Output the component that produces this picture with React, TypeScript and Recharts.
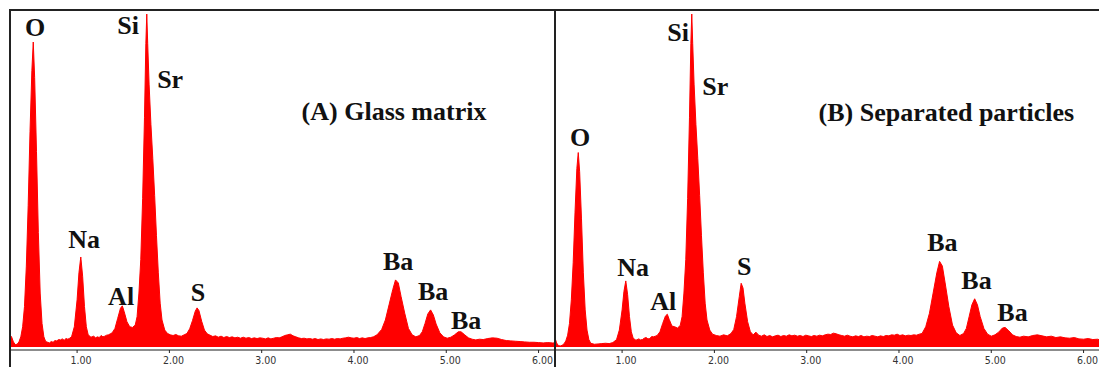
import React from 'react';
import { AreaChart, Area, XAxis, YAxis, ReferenceDot } from 'recharts';

// Energy (keV) / intensity (% of full scale) pairs
const spectrumA: [number, number][] = [
  [0.27, 3.6], [0.29, 3.0], [0.31, 1.5], [0.33, 0.7], [0.35, 0.8], [0.37, 1.5], [0.39, 3.0], [0.41, 6], [0.43, 12],
  [0.45, 24], [0.47, 42], [0.49, 64], [0.51, 82], [0.525, 90.5], [0.54, 80], [0.56, 58], [0.58, 34], [0.6, 16],
  [0.62, 7], [0.64, 3], [0.66, 1.6], [0.7, 1.2], [0.72, 1.6], [0.74, 1.4], [0.76, 1.9], [0.78, 1.8], [0.8, 2.2],
  [0.82, 2.1], [0.84, 2.4], [0.86, 2.0], [0.88, 2.5], [0.9, 2.3], [0.92, 2.6],
  [0.94, 3.0], [0.97, 6], [1.0, 14], [1.02, 22], [1.04, 26.7], [1.06, 21], [1.08, 12], [1.1, 6], [1.12, 3.6],
  [1.15, 2.9], [1.18, 3.2], [1.2, 2.7], [1.22, 3.0], [1.24, 2.8], [1.26, 3.4], [1.28, 3.0], [1.3, 3.2], [1.32, 3.5],
  [1.34, 3.6], [1.36, 3.9], [1.38, 4.2], [1.41, 5.5], [1.44, 8.5], [1.47, 11.5], [1.49, 12.2], [1.51, 10.5],
  [1.54, 7.5], [1.57, 6.0], [1.6, 5.8], [1.63, 6.5], [1.65, 9], [1.67, 16], [1.69, 26], [1.71, 44], [1.73, 68],
  [1.745, 90], [1.755, 98.8], [1.765, 90], [1.78, 78], [1.8, 66], [1.82, 56], [1.84, 45], [1.86, 33], [1.88, 22],
  [1.9, 13], [1.92, 8], [1.95, 5], [1.98, 4.0], [2.01, 3.6], [2.04, 3.4], [2.07, 3.7], [2.1, 3.3], [2.13, 3.2],
  [2.16, 3.6], [2.19, 4.0], [2.22, 5.4], [2.25, 7.8], [2.28, 10.6], [2.3, 11.6], [2.32, 10.8], [2.35, 7.6],
  [2.38, 5.0], [2.41, 3.9], [2.44, 3.5], [2.47, 3.1], [2.5, 3.3], [2.53, 2.9], [2.56, 3.2], [2.59, 2.8], [2.62, 3.1],
  [2.65, 2.8], [2.68, 3.0], [2.71, 2.7], [2.74, 2.9], [2.77, 2.6], [2.8, 2.9], [2.83, 2.6], [2.86, 2.8], [2.89, 2.5],
  [2.92, 2.7], [2.95, 2.5], [2.98, 2.7], [3.01, 2.6], [3.04, 2.4], [3.07, 2.7], [3.1, 2.4], [3.13, 2.6], [3.16, 2.8],
  [3.19, 2.7], [3.22, 3.0], [3.25, 3.4], [3.28, 3.6], [3.31, 3.8], [3.34, 3.3], [3.37, 3.0], [3.4, 2.7], [3.43, 2.5],
  [3.46, 2.6], [3.49, 2.4], [3.52, 2.5], [3.55, 2.3], [3.58, 2.5], [3.61, 2.2], [3.64, 2.4], [3.67, 2.2], [3.7, 2.4],
  [3.73, 2.3], [3.76, 2.5], [3.79, 2.3], [3.82, 2.5], [3.85, 2.4], [3.88, 2.6], [3.91, 2.7], [3.94, 2.9], [3.97, 2.7],
  [4.0, 2.6], [4.03, 2.8], [4.06, 2.5], [4.09, 2.7], [4.12, 2.5], [4.15, 2.7], [4.18, 2.8], [4.21, 3.0], [4.25, 3.6],
  [4.3, 5.2], [4.34, 8], [4.38, 12.5], [4.42, 17], [4.45, 19.9], [4.48, 19], [4.51, 15], [4.55, 10], [4.59, 5.5],
  [4.63, 3.6], [4.67, 3.0], [4.71, 3.4], [4.74, 4.5], [4.77, 7], [4.8, 9.8], [4.83, 11], [4.86, 9.5], [4.89, 6.8],
  [4.93, 4.2], [4.97, 3.0], [5.01, 2.6], [5.05, 2.9], [5.09, 3.6], [5.13, 4.5], [5.16, 4.5], [5.2, 3.6], [5.24, 2.7],
  [5.28, 2.3], [5.32, 2.1], [5.36, 2.3], [5.4, 2.2], [5.45, 2.5], [5.5, 2.7], [5.55, 2.6], [5.6, 2.2], [5.65, 1.9],
  [5.7, 1.8], [5.75, 1.7], [5.8, 1.6], [5.85, 1.5], [5.9, 1.4], [5.95, 1.4], [6.0, 1.3], [6.05, 1.2], [6.1, 1.3],
  [6.15, 1.2], [6.18, 1.2],
];

const spectrumB: [number, number][] = [
  [0.27, 3.0], [0.29, 1.2], [0.31, 0.4], [0.33, 0.3], [0.35, 0.5], [0.37, 0.9], [0.39, 1.8], [0.41, 3.5], [0.43, 7],
  [0.45, 14], [0.47, 25], [0.49, 40], [0.51, 53], [0.525, 57.7], [0.54, 52], [0.56, 38], [0.58, 22], [0.6, 11],
  [0.62, 5], [0.64, 2.2], [0.66, 1.1], [0.7, 0.8], [0.74, 0.9], [0.78, 1.0], [0.82, 1.1], [0.86, 1.0], [0.9, 1.3],
  [0.94, 2.2], [0.97, 5], [1.0, 11], [1.02, 16.5], [1.04, 19.6], [1.06, 15.5], [1.08, 9], [1.1, 4.5], [1.12, 2.6],
  [1.15, 2.0], [1.18, 2.4], [1.2, 2.1], [1.22, 2.2], [1.24, 2.6], [1.26, 2.8], [1.28, 2.4], [1.3, 2.5], [1.32, 3.1],
  [1.34, 3.0], [1.36, 3.2], [1.38, 3.4], [1.41, 4.5], [1.44, 7], [1.47, 9.2], [1.49, 9.7], [1.51, 8.2], [1.54, 6.2],
  [1.57, 6.0], [1.6, 5.6], [1.63, 6.4], [1.65, 9], [1.67, 16], [1.69, 26], [1.71, 44], [1.73, 68], [1.745, 90],
  [1.755, 98.8], [1.765, 90], [1.78, 78], [1.8, 66], [1.82, 56], [1.84, 45], [1.86, 33], [1.88, 22], [1.9, 13],
  [1.92, 8], [1.95, 5], [1.98, 3.8], [2.02, 3.4], [2.06, 3.2], [2.1, 3.6], [2.14, 3.3], [2.18, 4.0], [2.21, 5.2],
  [2.24, 9], [2.27, 15], [2.29, 18.9], [2.31, 17.5], [2.33, 13], [2.36, 7.5], [2.39, 4.5], [2.42, 3.6], [2.45, 4.4],
  [2.48, 3.5], [2.51, 3.2], [2.54, 3.6], [2.57, 3.1], [2.6, 3.4], [2.63, 3.0], [2.66, 3.3], [2.69, 3.5], [2.72, 3.1],
  [2.75, 3.4], [2.78, 3.2], [2.81, 3.6], [2.84, 3.3], [2.87, 3.5], [2.9, 3.2], [2.93, 3.4], [2.96, 3.1], [2.99, 3.5],
  [3.02, 3.3], [3.05, 3.1], [3.08, 3.4], [3.11, 3.2], [3.14, 3.5], [3.17, 3.3], [3.2, 3.6], [3.23, 3.8], [3.26, 3.7],
  [3.29, 4.1], [3.32, 3.9], [3.35, 3.6], [3.38, 3.4], [3.41, 3.2], [3.44, 3.5], [3.47, 3.2], [3.5, 3.0], [3.53, 3.3],
  [3.56, 3.1], [3.59, 3.4], [3.62, 3.0], [3.65, 3.2], [3.68, 3.1], [3.71, 3.4], [3.74, 3.2], [3.77, 3.0], [3.8, 3.3],
  [3.83, 3.1], [3.86, 3.4], [3.89, 3.3], [3.92, 3.6], [3.95, 3.5], [3.98, 3.8], [4.01, 3.4], [4.04, 3.6], [4.07, 3.3],
  [4.1, 3.5], [4.13, 3.4], [4.16, 3.6], [4.19, 3.5], [4.22, 3.8], [4.25, 4.0], [4.29, 6], [4.33, 10], [4.37, 16],
  [4.41, 22], [4.44, 25.4], [4.47, 24], [4.5, 19], [4.54, 12], [4.58, 6.5], [4.62, 4.2], [4.66, 3.4], [4.7, 4.0],
  [4.73, 5.5], [4.76, 9], [4.79, 12.5], [4.82, 14.3], [4.85, 12.5], [4.88, 9], [4.92, 5.5], [4.96, 3.8], [5.0, 3.2],
  [5.04, 3.6], [5.08, 4.4], [5.12, 5.6], [5.15, 5.8], [5.19, 4.8], [5.23, 3.6], [5.27, 3.1], [5.31, 2.9], [5.35, 3.2],
  [5.4, 3.0], [5.45, 3.4], [5.5, 3.6], [5.55, 3.3], [5.6, 3.0], [5.65, 3.2], [5.7, 2.8], [5.75, 3.0], [5.8, 2.7],
  [5.85, 2.6], [5.9, 2.8], [5.95, 2.4], [6.0, 2.3], [6.05, 2.5], [6.1, 2.2], [6.15, 2.3], [6.18, 2.1],
];

const tickValues = [1, 2, 3, 4, 5, 6];
const tickLabels = ['1.00', '2.00', '3.00', '4.00', '5.00', '6.00'];

// Peak annotations: [text, keV, intensity]
const labelsA: [string, number, number][] = [
  ['O', 0.545, 94.7], ['Si', 1.553, 95.3], ['Sr', 2.008, 79.5], ['(A) Glass matrix', 4.434, 70.0],
  ['Na', 1.076, 31.8], ['Al', 1.477, 15.1], ['S', 2.311, 16.3],
  ['Ba', 4.478, 25.5], ['Ba', 4.857, 16.6], ['Ba', 5.215, 8.0],
];
const labelsB: [string, number, number][] = [
  ['O', 0.544, 62.3], ['Si', 1.607, 93.2], ['Sr', 2.009, 77.4], ['(B) Separated particles', 4.514, 69.7],
  ['Na', 1.119, 23.7], ['Al', 1.445, 13.6], ['S', 2.323, 24.0],
  ['Ba', 4.471, 30.9], ['Ba', 4.84, 19.6], ['Ba', 5.23, 10.1],
];

const X_DOMAIN: [number, number] = [0.273, 6.178];
const Y_DOMAIN: [number, number] = [-0.9, 100];

const Tick = (props: any) => {
  const { x, y, payload } = props;
  const idx = tickValues.indexOf(payload.value);
  return (
    <text x={x + 4} y={y + 10.5} textAnchor="middle" fontSize={10.5} fill="#333"
      fontFamily="'DejaVu Sans Condensed', 'Liberation Sans', sans-serif">
      {idx >= 0 ? tickLabels[idx] : payload.value}
    </text>
  );
};

const LabelShape = (text: string) => (props: any) => (
  <text x={props.cx} y={props.cy} textAnchor="middle" dominantBaseline="central"
    fontFamily="'Liberation Serif', 'Times New Roman', serif" fontWeight="bold" fontSize={26} fill="#111">
    {text}
  </text>
);

function Spectrum({ data, labels }: { data: [number, number][]; labels: [string, number, number][] }) {
  const rows = data.map(([e, v]) => ({ e, v }));
  return (
    <AreaChart width={545} height={357} data={rows} margin={{ top: 0, right: 0, bottom: 0, left: 0 }}>
      <XAxis dataKey="e" type="number" domain={X_DOMAIN} allowDataOverflow ticks={tickValues}
        axisLine={{ stroke: '#8c8c8c', strokeWidth: 2 }} tickLine={{ stroke: '#222' }} tickSize={3}
        tickMargin={0} height={17} tick={<Tick />} interval={0} />
      <YAxis hide domain={Y_DOMAIN} allowDataOverflow type="number" />
      <Area type="linear" dataKey="v" stroke="#ff0000" strokeWidth={1} fill="#ff0000" fillOpacity={1}
        isAnimationActive={false} dot={false} activeDot={false} />
      {labels.map(([t, e, v], i) => (
        <ReferenceDot key={i} x={e} y={v} r={1} ifOverflow="visible" shape={LabelShape(t)} />
      ))}
    </AreaChart>
  );
}

export default function App() {
  return (
    <div style={{ position: 'absolute', left: 0, top: 0, width: 1099, height: 367, overflow: 'hidden', background: '#fff' }}>
      <div style={{ position: 'absolute', left: 10, top: 10 }}>
        <Spectrum data={spectrumA} labels={labelsA} />
      </div>
      <div style={{ position: 'absolute', left: 555, top: 10 }}>
        <Spectrum data={spectrumB} labels={labelsB} />
      </div>
      <div style={{ position: 'absolute', left: 9, top: 9, width: 1090, height: 2, background: '#222' }} />
      <div style={{ position: 'absolute', left: 9, top: 9, width: 2, height: 358, background: '#222' }} />
      <div style={{ position: 'absolute', left: 554, top: 9, width: 2, height: 358, background: '#222' }} />
    </div>
  );
}
